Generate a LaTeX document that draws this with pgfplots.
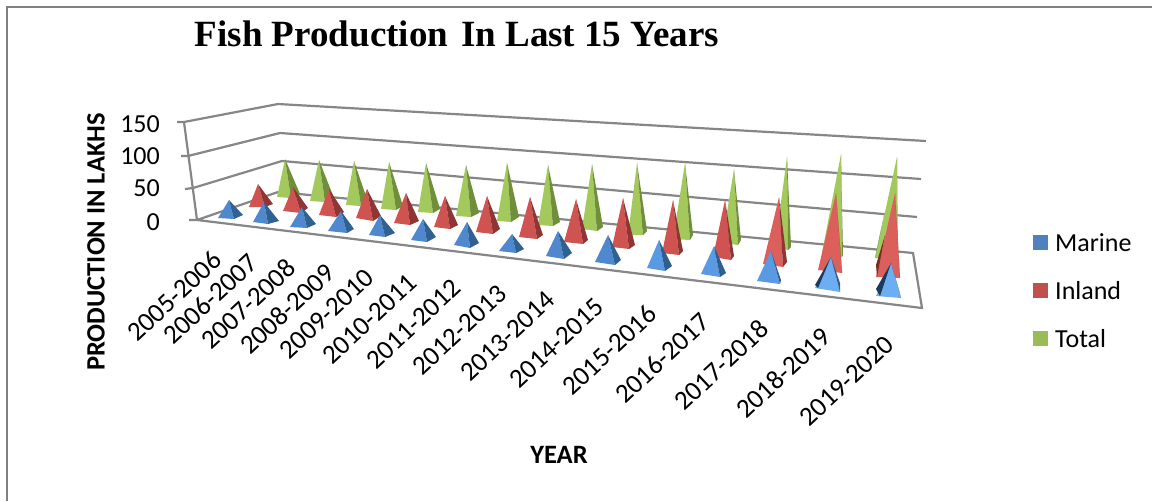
\documentclass[border=0pt]{standalone}
\usepackage{fontspec}
\setmainfont{Carlito}
\newfontfamily\titlefont{Liberation Serif}
\usepackage{pgfplots}
\pgfplotsset{compat=1.18}
\definecolor{gridc}{HTML}{868686}
\definecolor{blueL}{HTML}{4F88CE}\definecolor{blueD}{HTML}{2F6193}
\definecolor{blueM}{HTML}{5A9AE3}\definecolor{blueN}{HTML}{2E5F90}
\definecolor{blueH}{HTML}{6DADF2}\definecolor{blueK}{HTML}{1D3A5C}
\definecolor{redL}{HTML}{CF5451}\definecolor{redD}{HTML}{8F3634}
\definecolor{redH}{HTML}{DB605C}\definecolor{redK}{HTML}{7E2A28}
\definecolor{greenL}{HTML}{A3C95D}\definecolor{greenD}{HTML}{6F8F3B}
\definecolor{greenK}{HTML}{4E6A28}
\definecolor{legB}{HTML}{4F81BD}\definecolor{legR}{HTML}{C0504D}\definecolor{legG}{HTML}{9BBB59}
% one pyramid in picture pixels: light, dark, apex, left, front, right
\newcommand{\pyr}[6]{%
  \addplot[fill=#1,draw=none] coordinates {(#3) (#4) (#5)};
  \addplot[fill=#2,draw=none] coordinates {(#3) (#5) (#6)};
}
\newcommand{\face}[4]{\addplot[fill=#1,draw=none] coordinates {(#2) (#3) (#4)};}
\newcommand{\gline}[1]{\addplot[gridc,line width=2.2pt] coordinates {#1};}
\newcommand{\yearlab}[3]{\node[rotate=43,inner sep=0pt,font=\fontsize{27}{30}\selectfont] at (axis cs:#1,#2) {#3};}
\newcommand{\valab}[2]{\node[anchor=east,inner sep=0pt,font=\fontsize{26}{30}\selectfont] at (axis cs:160,#1) {#2};}
\newcommand{\leg}[3]{%
  \addplot[fill=#2,draw=none] coordinates {(1033,#1-7.5) (1048,#1-7.5) (1048,#1+7.5) (1033,#1+7.5)};
  \node[anchor=west,inner sep=0pt,font=\fontsize{26}{30}\selectfont] at (axis cs:1055,#1) {#3};
}
\begin{document}
\begin{tikzpicture}
\begin{axis}[
    hide axis,
    scale only axis,
    width=1152pt, height=501pt,
    xmin=0, xmax=1152, ymin=0, ymax=501,
    y dir=reverse,
  ]
% frame
\addplot[gray,line width=1.8pt] coordinates {(7,501) (7,7) (1152,7)};
% walls and floor
\gline{(177,122) (184,122) (278,104) (926,141)}
\gline{(181,156) (188,156) (280,133) (921,179)}
\gline{(185,189) (193,188) (282,161) (917,217)}
\gline{(189,220) (197,220) (278,192) (913,253) (922,308) (197,220)}
\gline{(184,122) (197,220)}
% Total
\pyr{greenL}{greenD}{285,159}{277,197}{291,198}{300,194}
\pyr{greenL}{greenD}{319,160}{310,201}{325,202}{334,198}
\pyr{greenL}{greenD}{354,161}{346,205}{361,206}{368,202}
\pyr{greenL}{greenD}{389,162}{381,209}{396,210}{403,206}
\pyr{greenL}{greenD}{426,163}{418,212}{433,213}{440,209}
\pyr{greenL}{greenD}{466,165}{456,216}{471,217}{479,213}
\pyr{greenL}{greenD}{507,163}{497,221}{511,222}{519,217}
\pyr{greenL}{greenD}{548,165}{538,225}{553,226}{560,222}
\pyr{greenL}{greenD}{592,164}{582,229}{597,231}{603,227}
\pyr{greenL}{greenD}{637,163}{628,235}{643,235}{647,231}
\pyr{greenL}{greenD}{685,163}{673,239}{690,240}{693,235}
\pyr{greenL}{greenD}{734,169}{722,243}{738,245}{741,240}
\pyr{greenL}{greenD}{787,157}{775,247}{788,250}{791,247}
\pyr{greenL}{greenD}{841,154}{822,253}{842,257}{843,255}
\pyr{greenL}{greenD}{897,157}{875,258}{898,258}{898,255}
\face{greenK}{884,215}{875,258}{879,240}
% Inland
\pyr{redL}{redD}{258,184}{249,207}{265,207}{273,204}
\pyr{redL}{redD}{293,187}{283,211}{301,213}{308,208}
\pyr{redL}{redD}{329,189}{319,215}{336,217}{344,212}
\pyr{redL}{redD}{367,189}{356,218}{373,221}{381,216}
\pyr{redL}{redD}{406,193}{394,223}{410,225}{419,221}
\pyr{redL}{redD}{445,196}{434,227}{450,229}{458,225}
\pyr{redL}{redD}{487,196}{476,232}{493,234}{500,229}
\pyr{redL}{redD}{530,197}{519,237}{537,239}{543,235}
\pyr{redL}{redD}{576,199}{564,242}{583,244}{588,240}
\pyr{redL}{redD}{623,198}{612,247}{629,249}{635,245}
\pyr{redL}{redD}{673,200}{662,253}{679,255}{683,251}
\pyr{redL}{redD}{725,200}{713,257}{731,260}{734,256}
\pyr{redH}{redD}{779,197}{763,264}{783,267}{787,262}
\pyr{redH}{redD}{836,193}{818,270}{842,273}{842,270}
\pyr{redH}{redD}{895,193}{876,277}{900,278}{900,276}
\face{redK}{885,235}{876,265}{877,277}
% Marine
\pyr{blueL}{blueD}{229,200}{218,218}{234,219}{243,215}
\pyr{blueL}{blueD}{264,202}{253,222}{268,224}{279,221}
\pyr{blueL}{blueD}{302,207}{290,227}{307,228}{316,224}
\pyr{blueL}{blueD}{341,211}{328,231}{347,233}{354,229}
\pyr{blueL}{blueD}{380,215}{369,235}{385,237}{395,233}
\pyr{blueL}{blueD}{423,219}{411,240}{427,242}{436,237}
\pyr{blueL}{blueD}{467,222}{454,245}{470,248}{479,243}
\pyr{blueL}{blueD}{512,234}{499,251}{516,253}{524,249}
\pyr{blueL}{blueD}{558,231}{546,256}{564,259}{572,253}
\pyr{blueL}{blueD}{608,235}{595,262}{615,265}{621,260}
\pyr{blueM}{blueN}{659,240}{647,268}{665,271}{672,266}
\pyr{blueM}{blueN}{714,246}{701,274}{720,277}{726,273}
\pyr{blueM}{blueN}{771,251}{757,281}{780,284}{781,280}
\pyr{blueH}{blueN}{831,257}{815,288}{840,292}{840,283}
\face{blueK}{831,257}{815,285}{818,288}
\pyr{blueH}{blueN}{891,263}{876,296}{901,298}{899,290}
\face{blueK}{891,263}{876,289}{880,296}
% value axis numbers
\valab{124}{150}
\valab{156}{100}
\valab{188}{50}
\valab{222}{0}
% years
\yearlab{174}{296}{2005-2006}
\yearlab{210}{299}{2006-2007}
\yearlab{248}{304}{2007-2008}
\yearlab{287}{309}{2008-2009}
\yearlab{327}{314}{2009-2010}
\yearlab{370}{319}{2010-2011}
\yearlab{414}{324}{2011-2012}
\yearlab{460}{330}{2012-2013}
\yearlab{508}{336}{2013-2014}
\yearlab{557}{343}{2014-2015}
\yearlab{609}{350}{2015-2016}
\yearlab{662}{358}{2016-2017}
\yearlab{721}{365}{2017-2018}
\yearlab{783}{373}{2018-2019}
\yearlab{847}{381}{2019-2020}
% legend
\leg{242.5}{legB}{Marine}
\leg{290.5}{legR}{Inland}
\leg{338.5}{legG}{Total}
% titles
\node[font=\titlefont\bfseries\fontsize{37}{40}\selectfont] at (axis cs:457,34) {Fish Production\hspace{13pt}In Last 15 Years};
\node[rotate=90,font=\bfseries\fontsize{26.5}{30}\selectfont] at (axis cs:96,242) {PRODUCTION IN LAKHS};
\node[font=\bfseries\fontsize{26.5}{30}\selectfont] at (axis cs:559,455) {YEAR};
\end{axis}
\useasboundingbox (current axis.south west) rectangle (current axis.north east);
\end{tikzpicture}
\end{document}
